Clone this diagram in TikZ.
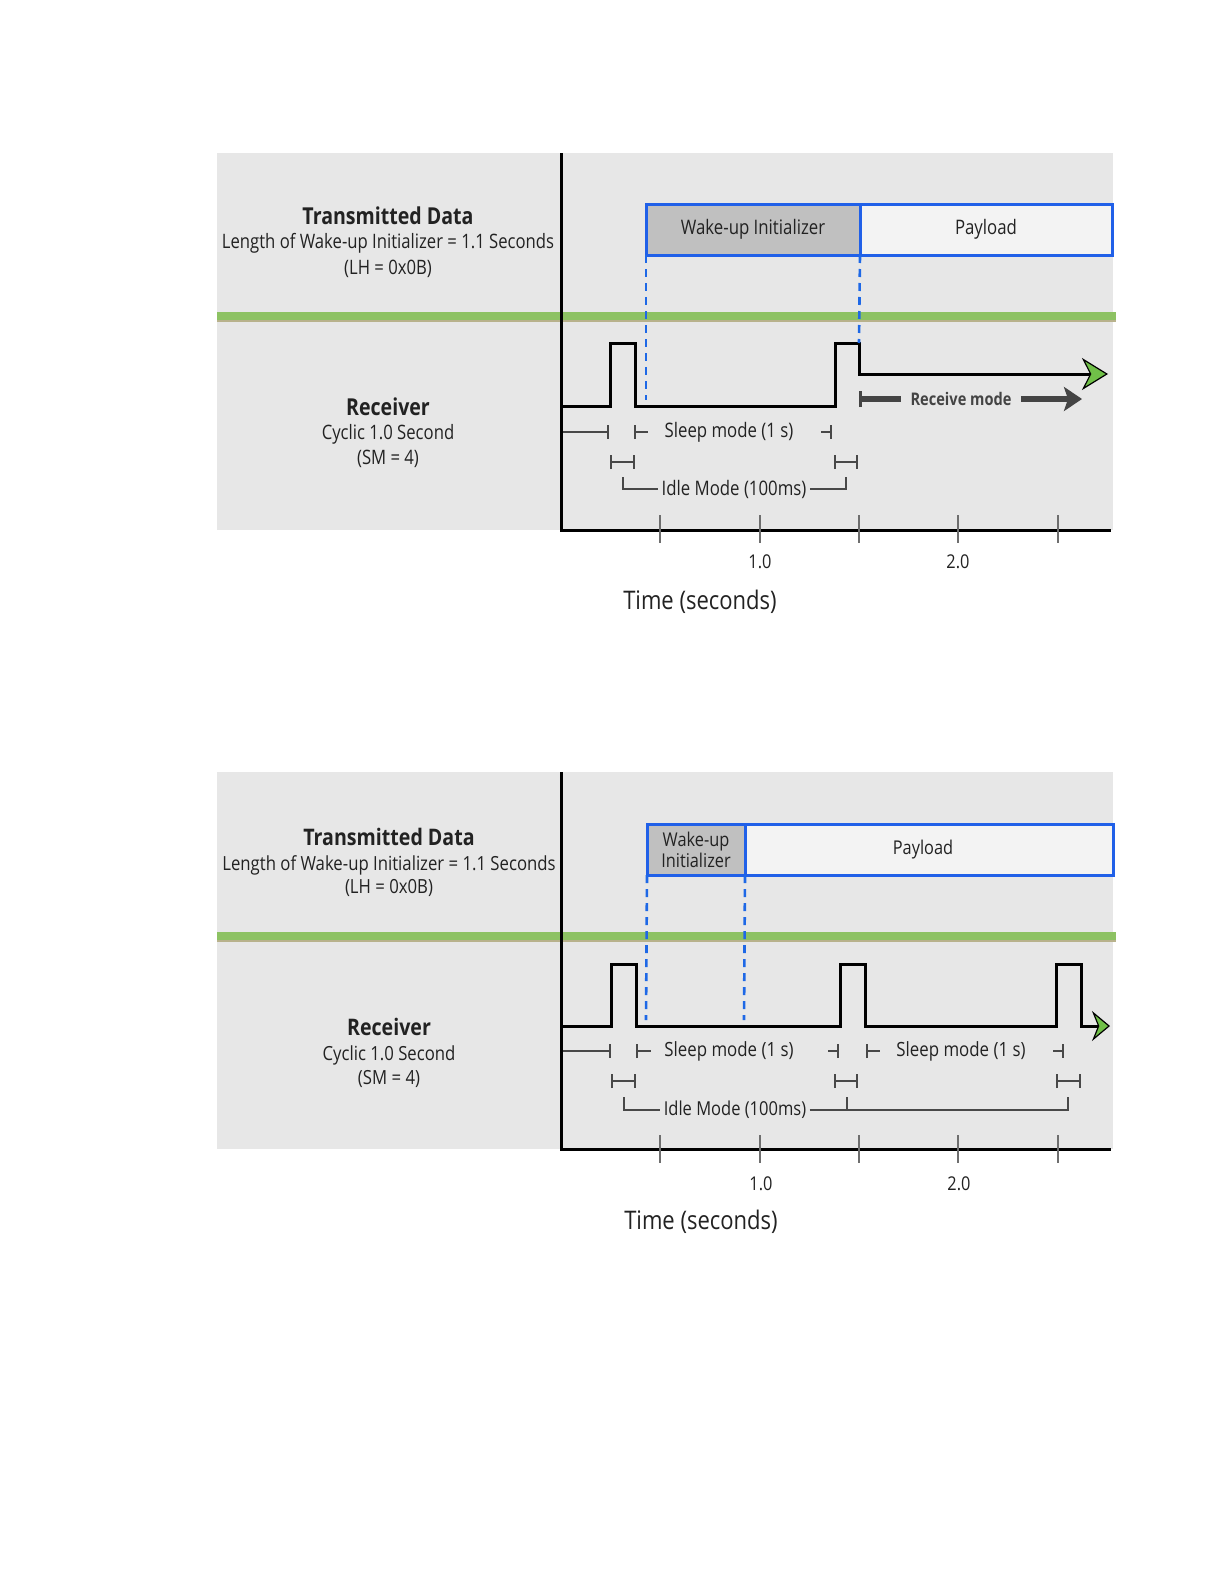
\documentclass[tikz,border=0pt]{standalone}
\usepackage{fontspec}
\setmainfont{Open Sans}
\newfontfamily\narrowA[FakeStretch=0.84]{Open Sans}
\newfontfamily\narrowB[FakeStretch=0.86]{Open Sans}
\usepackage{xcolor}
\definecolor{panelgray}{RGB}{231,231,231}
\definecolor{bandgreen}{RGB}{141,194,99}
\definecolor{bandtan}{RGB}{184,178,140}
\definecolor{wakegray}{RGB}{192,192,192}
\definecolor{payfill}{RGB}{243,243,243}
\definecolor{boxblue}{RGB}{32,96,232}
\definecolor{dashblue}{RGB}{30,104,230}
\definecolor{arrowgreen}{RGB}{112,192,72}
\definecolor{rcvgray}{RGB}{68,68,68}
\definecolor{dimgray}{RGB}{72,72,72}
\definecolor{tickgray}{RGB}{110,110,110}
\definecolor{txtgray}{RGB}{34,34,34}
\usetikzlibrary{arrows.meta, positioning}

\begin{document}
\begin{tikzpicture}[x=0.5pt, y=-0.5pt,
  sig/.style={line width=1.5pt, line join=miter},
  dimln/.style={line width=0.8pt, dimgray},
  brkln/.style={line width=0.6pt, dimgray},
  dashv/.style={dashblue, line width=1.3pt, dash pattern=on 4pt off 3pt},
  tickln/.style={tickgray, line width=0.8pt},
  wubox/.style={draw=boxblue, line width=1.5pt, fill=wakegray, inner sep=0pt, outer sep=0pt, anchor=north west},
  paybox/.style={draw=boxblue, line width=1.5pt, fill=payfill, inner sep=0pt, outer sep=0pt, anchor=north west},
  headA/.style={font=\narrowA\bfseries\fontsize{11.65}{13}\selectfont, txtgray, anchor=base},
  subA/.style={font=\narrowA\fontsize{9.93}{11}\selectfont, txtgray, anchor=base},
  headB/.style={font=\narrowB\bfseries\fontsize{11.4}{13}\selectfont, txtgray, anchor=base},
  subB/.style={font=\narrowB\fontsize{9.73}{11}\selectfont, txtgray, anchor=base},
  ticklbl/.style={font=\narrowB\fontsize{9.5}{11}\selectfont, txtgray},
  timelbl/.style={font=\narrowB\fontsize{12.8}{15}\selectfont, txtgray},
  bar/.tip={Bar[width=7pt]}]
\useasboundingbox (0,0) rectangle (1224,1584);
\fill[white] (0,0) rectangle (1224,1584);

% ===== Upper diagram: wake-up initializer of 1.1 s =====
% Background and separator
\fill[panelgray] (217,153) rectangle (1113,530);
\draw[bandgreen, line width=4.5pt] (217,316) -- (1116,316);
\draw[bandtan, line width=0.6pt] (217,321) -- (1116,321);

% Left labels
\node[headA] (txhead1) at (388,224) {Transmitted Data};
\node[subA] (txlen1) at (388,248) {Length of Wake-up Initializer = 1.1 Seconds};
\node[subA] (txlh1) at (388,274) {(LH = 0x0B)};
\node[headA] (rxhead1) at (388,415) {Receiver};
\node[subA] (rxcyc1) at (388,439) {Cyclic 1.0 Second};
\node[subA] (rxsm1) at (388,464) {(SM = 4)};

% Transmitted frame
\node[wubox, minimum width=107pt, minimum height=25.5pt, font=\narrowA\fontsize{10}{12}\selectfont, text=txtgray]
  (wake1) at (646,204) {Wake-up Initializer};
\node[paybox, minimum width=126pt, minimum height=25.5pt, font=\narrowA\fontsize{10}{12}\selectfont, text=txtgray]
  (pay1) at (wake1.north east) {Payload};

% Receiver signal
\draw[sig, -{Stealth[length=13pt, width=16pt, inset=4pt, fill=arrowgreen, line width=0.6pt]}]
  (561,406) -- (610,406) -- (610,343) -- (635,343) -- (635,406) coordinate (low1)
  -- (835,406) -- (835,343) -- (859,343) coordinate (top1) -- (859,374) -- (1108,374);
\draw[dashv] (wake1.south west) -- (646,400);
\draw[dashv] (wake1.south east) -- (top1);

% Receive mode
\coordinate (rcvstart) at (859,399);
\node[font=\narrowA\bfseries\fontsize{8.7}{10}\selectfont, rcvgray, inner sep=4.5pt] (rcv) at (961,399) {Receive mode};
\draw[rcvgray, line width=2.8pt, {Bar[width=8pt, line width=1.6pt]}-] (rcvstart) -- (rcvstart -| rcv.west);
\draw[rcvgray, line width=2.8pt, -{Stealth[length=9pt, width=12pt, inset=2pt]}] (rcvstart -| rcv.east) -- (1082,399);

% Sleep and idle markers
\draw[dimln, -bar] (561,432) -- (609,432);
\draw[dimln, bar-] (634,432) -- (648,432);
\node[font=\narrowA\fontsize{10}{12}\selectfont, txtgray] (sleep1) at (729,432) {Sleep mode (1 s)};
\draw[dimln, -bar] (821,432) -- (832,432);
\draw[dimln, bar-bar] (610,462) -- (635,462);
\draw[dimln, bar-bar] (834,462) -- (858,462);
\node[font=\narrowA\fontsize{10}{12}\selectfont, txtgray, inner sep=1.5pt] (idle1) at (734,489) {Idle Mode (100ms)};
\draw[brkln] (623,477) |- (idle1.west);
\draw[brkln] (idle1.east) -| (846,477);

% Axes
\draw[line width=1.5pt] (561,153) -- (561,530) -- (1111,530);
\foreach \x in {660,760,859,958,1058}
  \draw[tickln] (\x,515) -- (\x,543);
\node[ticklbl] (one1) at (760,562) {1.0};
\node[ticklbl] (two1) at (958,562) {2.0};
\node[timelbl] (time1) at (700,602) {Time (seconds)};

% ===== Lower diagram: short wake-up initializer =====
% Background and separator
\fill[panelgray] (217,772) rectangle (1113,1149);
\draw[bandgreen, line width=4.5pt] (217,936) -- (1116,936);
\draw[bandtan, line width=0.6pt] (217,941) -- (1116,941);

% Left labels
\node[headB] (txhead2) at (389,845) {Transmitted Data};
\node[subB] (txlen2) at (389,870) {Length of Wake-up Initializer = 1.1 Seconds};
\node[subB] (txlh2) at (389,893) {(LH = 0x0B)};
\node[headB] (rxhead2) at (389,1035) {Receiver};
\node[subB] (rxcyc2) at (389,1060) {Cyclic 1.0 Second};
\node[subB] (rxsm2) at (389,1084) {(SM = 4)};

% Transmitted frame
\node[wubox, minimum width=49pt, minimum height=25.5pt, align=center,
  font=\narrowB\fontsize{9.5}{10.5}\selectfont, text=txtgray]
  (wake2) at (647,824) {Wake-up\\Initializer};
\node[paybox, minimum width=184pt, minimum height=25.5pt, font=\narrowB\fontsize{9.5}{11}\selectfont, text=txtgray]
  (pay2) at (wake2.north east) {Payload\kern6pt};

% Receiver signal
\draw[sig, -{Stealth[length=9pt, width=15pt, inset=3pt, fill=arrowgreen, line width=0.6pt]}]
  (561,1026) -- (611,1026) -- (611,964) -- (636,964) -- (636,1026)
  -- (840,1026) -- (840,964) -- (865,964) -- (865,1026)
  -- (1056,1026) -- (1056,964) -- (1081,964) -- (1081,1026) -- (1110,1026);
\draw[dashv] (wake2.south west) -- (646,1020);
\draw[dashv] (wake2.south east) -- (744,1020);

% Sleep and idle markers
\draw[dimln, -bar] (561,1051) -- (611,1051);
\draw[dimln, bar-] (636,1051) -- (651,1051);
\node[font=\narrowB\fontsize{9.8}{12}\selectfont, txtgray] (sleep2) at (729,1051) {Sleep mode (1 s)};
\draw[dimln, -bar] (828,1051) -- (839,1051);
\draw[dimln, bar-] (866,1051) -- (880,1051);
\node[font=\narrowB\fontsize{9.8}{12}\selectfont, txtgray] (sleep3) at (961,1051) {Sleep mode (1 s)};
\draw[dimln, -bar] (1053,1051) -- (1064,1051);
\draw[dimln, bar-bar] (611,1081) -- (636,1081);
\draw[dimln, bar-bar] (834,1081) -- (858,1081);
\draw[dimln, bar-bar] (1056,1081) -- (1081,1081);
\node[font=\narrowB\fontsize{9.6}{12}\selectfont, txtgray, inner sep=1.5pt] (idle2) at (735,1110) {Idle Mode (100ms)};
\draw[brkln] (624,1097) |- (idle2.west);
\draw[brkln] (idle2.east) -| (1068,1097);
\draw[brkln] (847,1097) -- (847,1110);

% Axes
\draw[line width=1.5pt] (561,772) -- (561,1149) -- (1111,1149);
\foreach \x in {660,760,859,958,1058}
  \draw[tickln] (\x,1135) -- (\x,1163);
\node[ticklbl] (one2) at (761,1184) {1.0};
\node[ticklbl] (two2) at (959,1184) {2.0};
\node[timelbl] (time2) at (701,1222) {Time (seconds)};
\end{tikzpicture}
\end{document}
